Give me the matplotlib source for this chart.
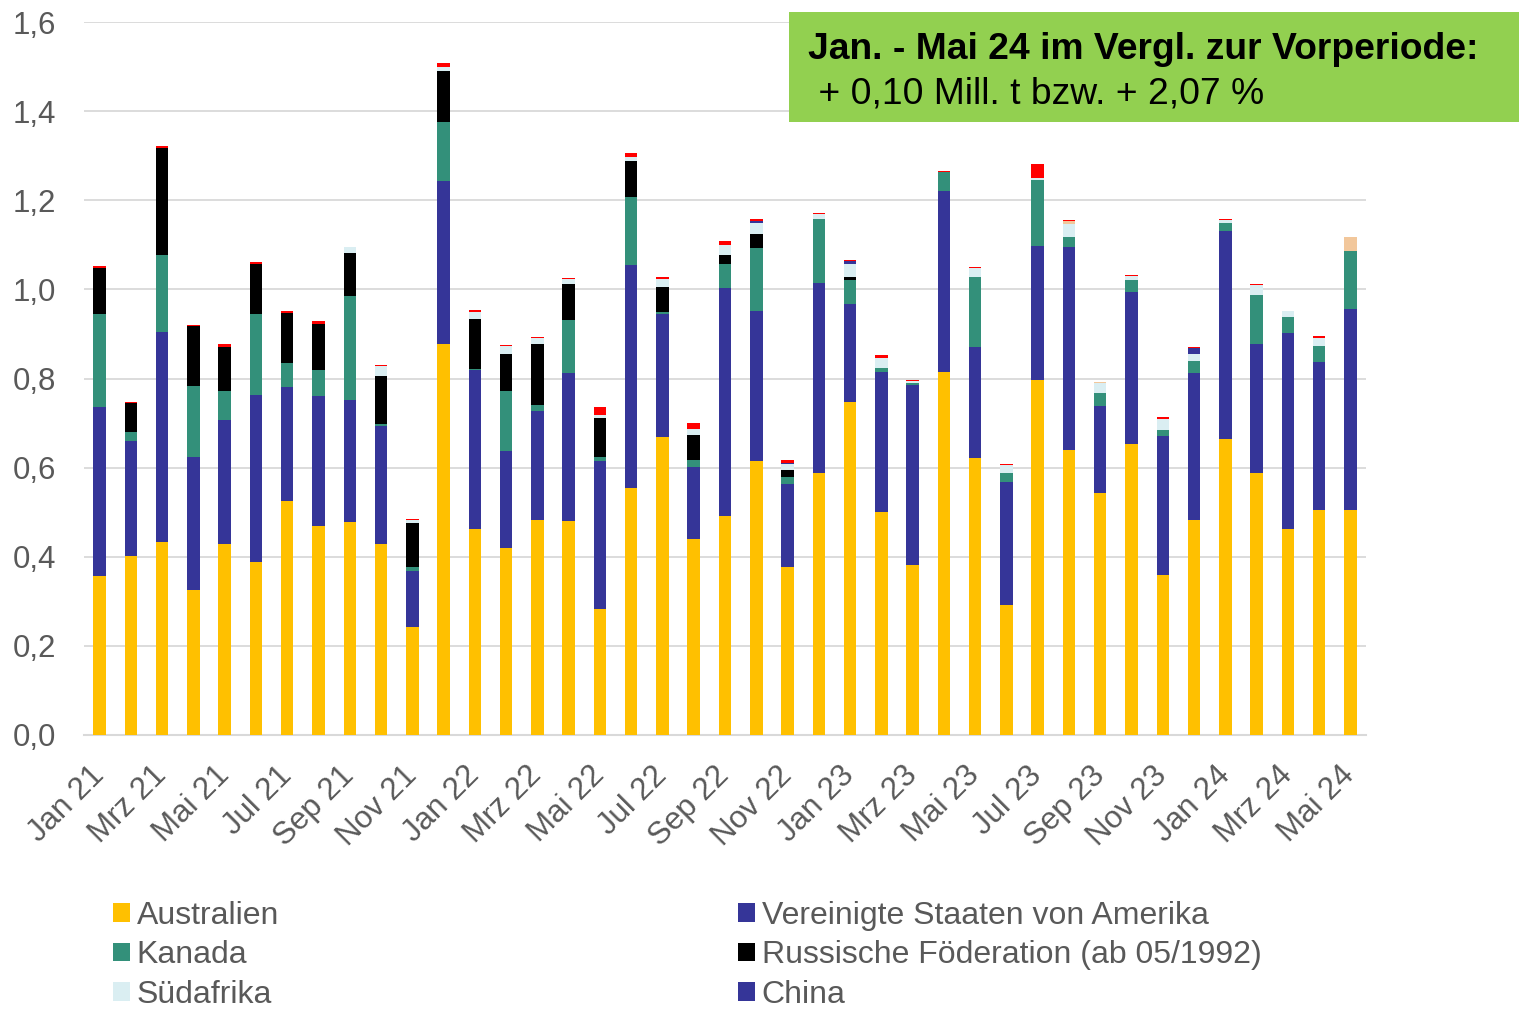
import matplotlib
matplotlib.use("Agg")
import matplotlib.pyplot as plt
from matplotlib.patches import Patch, Rectangle
import numpy as np

# ---------- daten (Mill. t) ----------
monate = ["Jan", "Feb", "Mrz", "Apr", "Mai", "Jun", "Jul", "Aug", "Sep", "Okt", "Nov", "Dez"]
labels = [f"{monate[i % 12]} {21 + i // 12}" for i in range(41)]

australien = [0.357, 0.402, 0.433, 0.326, 0.429, 0.388, 0.526, 0.469, 0.478, 0.428, 0.243, 0.877,
              0.462, 0.419, 0.483, 0.481, 0.282, 0.554, 0.668, 0.439, 0.492, 0.614, 0.377, 0.587,
              0.748, 0.501, 0.381, 0.815, 0.621, 0.292, 0.797, 0.640, 0.543, 0.654, 0.358, 0.482,
              0.664, 0.587, 0.463, 0.505, 0.506]
usa = [0.380, 0.257, 0.471, 0.297, 0.277, 0.376, 0.255, 0.291, 0.273, 0.266, 0.126, 0.367,
       0.357, 0.219, 0.244, 0.332, 0.333, 0.500, 0.276, 0.163, 0.510, 0.338, 0.187, 0.428,
       0.219, 0.314, 0.404, 0.406, 0.249, 0.275, 0.301, 0.454, 0.196, 0.341, 0.314, 0.331,
       0.466, 0.290, 0.439, 0.331, 0.450]
kanada = [0.208, 0.021, 0.174, 0.160, 0.065, 0.181, 0.053, 0.060, 0.234, 0.004, 0.009, 0.132,
          0.002, 0.135, 0.013, 0.118, 0.008, 0.154, 0.006, 0.016, 0.055, 0.140, 0.016, 0.143,
          0.054, 0.009, 0.005, 0.042, 0.158, 0.022, 0.147, 0.024, 0.028, 0.026, 0.013, 0.027,
          0.018, 0.111, 0.036, 0.036, 0.130]
russland = [0.102, 0.064, 0.240, 0.134, 0.099, 0.113, 0.113, 0.102, 0.097, 0.108, 0.097, 0.113,
            0.112, 0.081, 0.138, 0.081, 0.088, 0.079, 0.056, 0.055, 0.021, 0.032, 0.015, 0.0,
            0.007, 0.0, 0.0, 0.0, 0.0, 0.0, 0.0, 0.0, 0.0, 0.0, 0.0, 0.0,
            0.0, 0.0, 0.0, 0.0, 0.0]
suedafrika = [0.0, 0.0, 0.0, 0.0, 0.0, 0.0, 0.0, 0.0, 0.012, 0.021, 0.007, 0.011,
              0.017, 0.019, 0.013, 0.011, 0.008, 0.010, 0.018, 0.014, 0.022, 0.026, 0.013, 0.012,
              0.030, 0.022, 0.005, 0.0, 0.021, 0.017, 0.006, 0.029, 0.024, 0.010, 0.025, 0.016,
              0.007, 0.021, 0.013, 0.019, 0.0]
china = [0.0] * 21 + [0.003, 0.002, 0.0, 0.005] + [0.0] * 10 + [0.012] + [0.0] * 5
sonst_hell = [0.0] * 31 + [0.006, 0.002] + [0.0] * 7 + [0.032]
sonst_rot = [0.005, 0.003, 0.004, 0.003, 0.007, 0.004, 0.004, 0.007, 0.002, 0.004, 0.003, 0.008,
             0.003, 0.003, 0.002, 0.002, 0.016, 0.009, 0.004, 0.013, 0.008, 0.006, 0.007, 0.002,
             0.002, 0.007, 0.002, 0.002, 0.002, 0.003, 0.030, 0.003, 0.0, 0.002, 0.003, 0.002,
             0.003, 0.004, 0.0, 0.004, 0.0]

serien = [
    ("Australien", australien, "#FFC000"),
    ("Vereinigte Staaten von Amerika", usa, "#353598"),
    ("Kanada", kanada, "#33907A"),
    ("Russische Föderation (ab 05/1992)", russland, "#000000"),
    ("Südafrika", suedafrika, "#DAEEF2"),
    ("China", china, "#353598"),
    ("_hell", sonst_hell, "#F2C79B"),
    ("_rot", sonst_rot, "#FF0000"),
]

GRAU = "#595959"
plt.rcParams["font.family"] = ["Liberation Sans", "DejaVu Sans"]

fig = plt.figure(figsize=(15.19, 10.09), dpi=100)
ax = fig.add_axes([84 / 1519, 1 - 735 / 1009, (1366 - 84) / 1519, (735 - 22) / 1009])

x = np.arange(len(labels))
unten = np.zeros(len(labels))
for name, werte, farbe in serien:
    ax.bar(x, werte, bottom=unten, width=0.4, color=farbe, linewidth=0, zorder=3)
    unten += np.array(werte)

ax.set_xlim(-0.5, 40.5)
ax.set_ylim(0, 1.6)
ax.set_yticks(np.arange(0, 1.61, 0.2))
ax.set_yticklabels([f"{v:.1f}".replace(".", ",") for v in np.arange(0, 1.61, 0.2)])
ax.set_xticks(x[::2])
ax.set_xticklabels(labels[::2], rotation=45, ha="right", va="center", rotation_mode="anchor")
ax.tick_params(axis="both", length=0, labelsize=22.5, colors=GRAU)
ax.tick_params(axis="y", pad=20)
ax.tick_params(axis="x", pad=26)
ax.grid(axis="y", color="#D9D9D9", linewidth=1.3, zorder=0)
for s in ["top", "right", "left"]:
    ax.spines[s].set_visible(False)
ax.spines["bottom"].set_color("#D9D9D9")
ax.spines["bottom"].set_linewidth(1.5)

# ---------- legende ----------
farben = {n: f for n, _, f in serien}
spalte1 = ["Australien", "Kanada", "Südafrika"]
spalte2 = ["Vereinigte Staaten von Amerika", "Russische Föderation (ab 05/1992)", "China"]
for namen, xpos in [(spalte1, 113 / 1519), (spalte2, 738 / 1519)]:
    h = [Patch(facecolor=farben[n], edgecolor="none") for n in namen]
    leg = fig.legend(h, namen, loc="upper left", bbox_to_anchor=(xpos, 1 - 901 / 1009),
                     frameon=False, fontsize=23, handlelength=0.52, handleheight=0.52,
                     handletextpad=0.22, labelspacing=0.29, borderpad=0, borderaxespad=0)
    for t in leg.get_texts():
        t.set_color(GRAU)

# ---------- textbox ----------
fig.patches.append(Rectangle((789 / 1519, 1 - 122 / 1009), 730 / 1519, 110 / 1009,
                             transform=fig.transFigure, facecolor="#92D050", edgecolor="none"))
fig.text(808 / 1519, 1 - 59 / 1009, "Jan. - Mai 24 im Vergl. zur Vorperiode:",
         fontsize=26.8, fontweight="bold", color="black", va="baseline")
fig.text(808 / 1519, 1 - 103 / 1009, " + 0,10 Mill. t bzw. + 2,07 %",
         fontsize=26.8, color="black", va="baseline")

fig.savefig("out.png", dpi=100)
